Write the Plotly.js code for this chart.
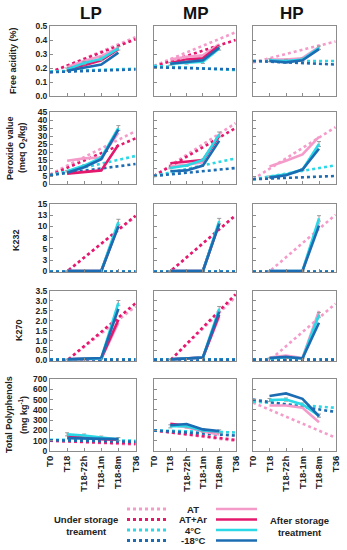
<!DOCTYPE html>
<html><head><meta charset="utf-8">
<script src="https://cdn.plot.ly/plotly-3.0.1.min.js"></script>
<style>html,body{margin:0;padding:0;background:#fff}#chart{width:347px;height:550px}</style>
</head><body><div id="chart"></div>
<script>
// ---------------- DATA ----------------
const xLabels = ['T0', 'T18', 'T18-72h', 'T18-1m', 'T18-8m', 'T36'];
const cultivars = ['LP', 'MP', 'HP'];
const treatments = ['AT', 'AT+Ar', '4°C', '-18°C'];
const afterX = [1, 2, 3, 4];   // T18 .. T18-8m
const trendX = [0, 5];         // T0 .. T36

// Free acidity (%) — after storage, per cultivar [LP, MP, HP]
const FA_AT    = [[0.205, 0.25, 0.285, 0.345], [0.26, 0.28, 0.29, 0.37], [0.26, 0.26, 0.27, 0.35]];
const FA_ATAr  = [[0.195, 0.22, 0.255, 0.335], [0.235, 0.26, 0.27, 0.36], null];
const FA_4C    = [[0.19, 0.235, 0.265, 0.34], [0.23, 0.24, 0.245, 0.34], [0.255, 0.25, 0.26, 0.345]];
const FA_M18   = [[0.18, 0.2, 0.225, 0.31], [0.23, 0.245, 0.255, 0.345], [0.25, 0.24, 0.255, 0.335]];
// under storage (trend T0 -> T36)
const FA_AT_tr   = [[0.165, 0.42], [0.215, 0.455], [0.24, 0.39]];
const FA_ATAr_tr = [[0.17, 0.405], [0.21, 0.40], null];
const FA_4C_tr   = [[0.175, 0.195], [0.215, 0.185], [0.25, 0.25]];
const FA_M18_tr  = [[0.17, 0.19], [0.205, 0.19], [0.25, 0.225]];
const FA_ERR     = [0.01, 0.012, 0.012, 0.012];

// Peroxide value (meq O2/kg)
const PV_AT    = [[14.5, 16, 16.5, 32], [11, 12, 13.5, 31], [11, 14.5, 18.5, 29.5]];
const PV_ATAr  = [[6.5, 7.5, 8.5, 24.5], [13, 14, 15, 30], null];
const PV_4C    = [[8, 11.5, 16.5, 35], [10, 11.5, 15, 31], [4.5, 6, 9, 25]];
const PV_M18   = [[7, 10.5, 15.5, 34], [8, 8.5, 11.5, 27], [4, 5.5, 9, 22]];
const PV_AT_tr   = [[6, 33], [5, 38], [3, 35.5]];
const PV_ATAr_tr = [[5.5, 28.5], [5, 35], null];
const PV_4C_tr   = [[5.5, 17.5], [5, 16], [3, 11.7]];
const PV_M18_tr  = [[5.5, 12.5], [5, 10], [3, 5]];
const PV_ERR     = [0.5, 0.5, 0.6, 1.5];

// K232
const K232_AT    = [[0.1, 0.1, 0.1, 10.5], [0.1, 0.1, 0.1, 10.8], [0.1, 0.1, 0.1, 11]];
const K232_ATAr  = [[0.1, 0.1, 0.1, 10.3], [0.1, 0.1, 0.1, 10.7], null];
const K232_4C    = [[0.1, 0.1, 0.1, 11], [0.1, 0.1, 0.1, 11.2], [0.1, 0.1, 0.1, 11.8]];
const K232_M18   = [[0.1, 0.1, 0.1, 10], [0.1, 0.1, 0.1, 10.6], [0.1, 0.1, 0.1, 10.2]];
const K232_AT_tr   = [[-3.0, 12.2], [-3.1, 12.4], [-3.15, 12.6]];
const K232_ATAr_tr = [[-3.1, 12.4], [-3.1, 12.5], null];
const K232_4C_tr   = [[0, 0], [0, 0], [0, 0]];
const K232_M18_tr  = [[0, 0], [0, 0], [0, 0]];
const K232_ERR     = [0.05, 0.05, 0.05, 0.6];

// K270
const K270_AT    = [[0.05, 0.07, 0.08, 1.9], [0.05, 0.1, 0.15, 2.2], [0.15, 0.25, 0.12, 2.5]];
const K270_ATAr  = [[0.05, 0.07, 0.1, 2.05], [0.05, 0.1, 0.15, 2.3], null];
const K270_4C    = [[0.05, 0.07, 0.1, 2.9], [0.05, 0.1, 0.15, 2.6], [0.1, 0.15, 0.1, 2.3]];
const K270_M18   = [[0.05, 0.08, 0.12, 2.6], [0.05, 0.1, 0.15, 2.45], [0.12, 0.18, 0.1, 1.9]];
const K270_AT_tr   = [[-0.68, 2.72], [-0.8, 3.2], [-0.715, 2.86]];
const K270_ATAr_tr = [[-0.72, 2.88], [-0.83, 3.33], null];
const K270_4C_tr   = [[0.05, 0.05], [0.05, 0.05], [0.05, 0.05]];
const K270_M18_tr  = [[0.04, 0.04], [0.04, 0.04], [0.04, 0.04]];
const K270_ERR     = [0.02, 0.02, 0.02, 0.12];

// Total polyphenols (mg kg-1)
const TP_AT    = [[150, 140, 125, 110], [255, 230, 190, 160], [443, 443, 420, 279]];
const TP_ATAr  = [[150, 130, 115, 110], [265, 245, 200, 190], null];
const TP_4C    = [[162, 150, 130, 115], [240, 240, 200, 190], [495, 500, 452, 344]];
const TP_M18   = [[125, 120, 115, 115], [250, 262, 210, 195], [535, 560, 507, 338]];
const TP_AT_tr   = [[100, 62], [200, 98], [470, 130]];
const TP_ATAr_tr = [[100, 72], [200, 108], null];
const TP_4C_tr   = [[110, 100], [200, 180], [480, 420]];
const TP_M18_tr  = [[105, 90], [200, 150], [500, 380]];
const TP_ERR     = [15, 15, 15, 15];

// ---------------- STYLE / LAYOUT ----------------
const colors = ['#f59bca', '#e4186d', '#2ad8e6', '#1b6cb2'];
const W = 347, H = 550;
const colPx = [[50, 136], [154, 236], [253, 336]];
const rowPx = [[26, 96], [112, 184], [204, 272], [291, 361], [379, 451]];
const FONT = 'Liberation Sans, Arial, sans-serif';

const rows = [
  {after: [FA_AT, FA_ATAr, FA_4C, FA_M18], trend: [FA_AT_tr, FA_ATAr_tr, FA_4C_tr, FA_M18_tr], err: FA_ERR,
   range: [0, 0.5], tickvals: [0, 0.1, 0.2, 0.3, 0.4, 0.5], ticktext: ['0.0', '0.1', '0.2', '0.3', '0.4', '0.5']},
  {after: [PV_AT, PV_ATAr, PV_4C, PV_M18], trend: [PV_AT_tr, PV_ATAr_tr, PV_4C_tr, PV_M18_tr], err: PV_ERR,
   range: [0, 45], tickvals: [0, 5, 10, 15, 20, 25, 30, 35, 40, 45], ticktext: ['0', '5', '10', '15', '20', '25', '30', '35', '40', '45']},
  {after: [K232_AT, K232_ATAr, K232_4C, K232_M18], trend: [K232_AT_tr, K232_ATAr_tr, K232_4C_tr, K232_M18_tr], err: K232_ERR,
   range: [-0.12, 15], tickvals: [0, 2.5, 5, 7.5, 10, 12.5, 15], ticktext: ['0', '3', '5', '8', '10', '13', '15']},
  {after: [K270_AT, K270_ATAr, K270_4C, K270_M18], trend: [K270_AT_tr, K270_ATAr_tr, K270_4C_tr, K270_M18_tr], err: K270_ERR,
   range: [-0.03, 3.5], tickvals: [0, 0.5, 1, 1.5, 2, 2.5, 3, 3.5], ticktext: ['0.0', '0.5', '1.0', '1.5', '2.0', '2.5', '3.0', '3.5']},
  {after: [TP_AT, TP_ATAr, TP_4C, TP_M18], trend: [TP_AT_tr, TP_ATAr_tr, TP_4C_tr, TP_M18_tr], err: TP_ERR,
   range: [0, 700], tickvals: [0, 100, 200, 300, 400, 500, 600, 700], ticktext: ['0', '100', '200', '300', '400', '500', '600', '700']}
];

const traces = [];
const layout = {
  width: W, height: H, margin: {l: 0, r: 0, t: 0, b: 0},
  paper_bgcolor: '#fff', plot_bgcolor: '#fff', showlegend: false,
  font: {family: FONT, size: 9, color: '#222'},
  annotations: [], shapes: []
};

rows.forEach((row, r) => {
  cultivars.forEach((cv, c) => {
    const p = r * 3 + c + 1;
    const xa = p === 1 ? 'x' : 'x' + p, ya = p === 1 ? 'y' : 'y' + p;
    // trend lines (under storage)
    row.trend.forEach((tr, t) => {
      if (!tr || !tr[c]) return;
      traces.push({x: trendX, y: tr[c], xaxis: xa, yaxis: ya, mode: 'lines', hoverinfo: 'skip',
        line: {color: colors[t], width: 2.6, dash: 'dot'}});
    });
    // after storage lines
    row.after.forEach((af, t) => {
      if (!af || !af[c]) return;
      const tr = {x: afterX, y: af[c], xaxis: xa, yaxis: ya, mode: 'lines', hoverinfo: 'skip',
        line: {color: colors[t], width: 2.6}};
      if (t === 2) tr.error_y = {type: 'data', array: row.err, visible: true, color: '#9a9a9a', thickness: 1, width: 2};
      traces.push(tr);
    });
    const axBase = {showline: true, mirror: true, linecolor: '#8c8c8c', linewidth: 1,
      showgrid: false, zeroline: false, ticks: 'inside', ticklen: 3, tickcolor: '#8c8c8c', tickwidth: 1,
      tickfont: {family: FONT, size: 8.5, weight: 'bold', color: '#222'}};
    layout['xaxis' + (p === 1 ? '' : p)] = Object.assign({}, axBase, {
      domain: [colPx[c][0] / W, colPx[c][1] / W], anchor: ya, range: [0, 5.03],
      tickmode: 'array', tickvals: [0, 1, 2, 3, 4, 5], ticktext: xLabels,
      showticklabels: r === 4, tickangle: -90,
      tickfont: {family: FONT, size: 9.5, weight: 'bold', color: '#222'}});
    layout['yaxis' + (p === 1 ? '' : p)] = Object.assign({}, axBase, {
      domain: [1 - rowPx[r][1] / H, 1 - rowPx[r][0] / H], anchor: xa, range: row.range,
      tickmode: 'array', tickvals: row.tickvals, ticktext: row.ticktext,
      showticklabels: c === 0});
  });
});

// column titles
const colTitleX = [91, 196, 292];
cultivars.forEach((cv, c) => layout.annotations.push({text: cv, xref: 'paper', yref: 'paper',
  x: colTitleX[c] / W, y: 1 - 13 / H, showarrow: false, xanchor: 'center', yanchor: 'middle',
  font: {family: FONT, size: 17, weight: 'bold', color: '#111'}}));

// y titles
const yTitles = [
  {text: 'Free acidity (%)', x: 13, y: 61},
  {text: 'Peroxide value', x: 10, y: 148},
  {text: '(meq O<sub>2</sub>/kg)', x: 23, y: 148},
  {text: 'K232', x: 16, y: 240},
  {text: 'K270', x: 19, y: 330},
  {text: 'Total Polyphenols', x: 9, y: 415},
  {text: '(mg kg<sup>-1</sup>)', x: 23, y: 415}
];
yTitles.forEach(t => layout.annotations.push({text: t.text, xref: 'paper', yref: 'paper',
  x: t.x / W, y: 1 - t.y / H, textangle: -90, showarrow: false, xanchor: 'center', yanchor: 'middle',
  font: {family: FONT, size: 9, weight: 'bold', color: '#222'}}));

// custom legend
const legY = [509, 519.5, 530, 540.5];
treatments.forEach((tn, i) => {
  const yy = 1 - legY[i] / H;
  layout.shapes.push({type: 'line', xref: 'paper', yref: 'paper', x0: 127 / W, x1: 166 / W, y0: yy, y1: yy,
    line: {color: colors[i], width: 3, dash: 'dot'}});
  layout.shapes.push({type: 'line', xref: 'paper', yref: 'paper', x0: 216 / W, x1: 257 / W, y0: yy, y1: yy,
    line: {color: colors[i], width: 2.6}});
  layout.annotations.push({text: tn, xref: 'paper', yref: 'paper', x: 193 / W, y: yy, showarrow: false,
    xanchor: 'center', yanchor: 'middle', font: {family: FONT, size: 9.5, weight: 'bold', color: '#222'}});
});
layout.annotations.push({text: 'Under storage<br>treament', xref: 'paper', yref: 'paper', x: 86 / W, y: 1 - 525.5 / H,
  showarrow: false, xanchor: 'center', yanchor: 'middle', align: 'center',
  font: {family: FONT, size: 9.5, weight: 'bold', color: '#222'}});
layout.annotations.push({text: 'After storage<br>treatment', xref: 'paper', yref: 'paper', x: 299 / W, y: 1 - 526 / H,
  showarrow: false, xanchor: 'center', yanchor: 'middle', align: 'center',
  font: {family: FONT, size: 9.5, weight: 'bold', color: '#222'}});

Plotly.newPlot('chart', traces, layout, {displayModeBar: false, staticPlot: true});
</script>
</body></html>
